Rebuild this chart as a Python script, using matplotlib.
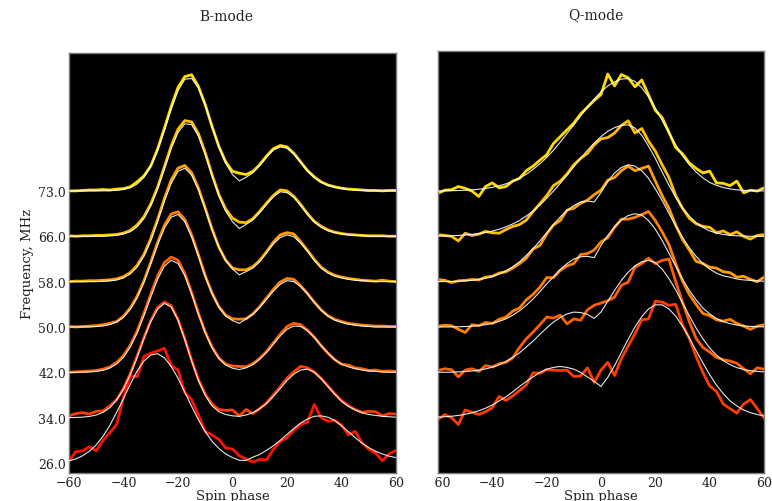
import numpy as np
import matplotlib
matplotlib.use("Agg")
import matplotlib.pyplot as plt
from matplotlib.transforms import Bbox, TransformedBbox

plt.rcParams['font.family'] = ['DejaVu Serif']

# ---------------- data ----------------
phase = np.arange(-60, 60.1, 2.5)          # spin phase grid (49 samples)
b_freqs = ["26.0", "34.0", "42.0", "50.0", "58.0", "66.0", "73.0"]
q_freqs = ["34.0", "42.0", "50.0", "58.0", "66.0", "73.0"]
freq_colors = {"26.0": "#ff1200", "34.0": "#ff3c00", "42.0": "#ff5f00",
               "50.0": "#ff7f00", "58.0": "#ff9f00", "66.0": "#ffbe00",
               "73.0": "#ffdc00"}

# B-mode profiles (amplitude above baseline)
b26_data = [0.05, 0.25, 0.27, 0.36, 0.27, 0.50, 0.67,
            0.85, 1.45, 1.92, 1.90, 2.35, 2.42, 2.47,
            2.53, 2.15, 2.05, 1.55, 1.40, 1.05, 0.70,
            0.62, 0.52, 0.33, 0.31, 0.16, 0.09, 0.02,
            0.08, 0.07, 0.30, 0.47, 0.56, 0.72, 0.85,
            0.90, 1.29, 1.00, 0.92, 0.94, 0.84, 0.62,
            0.70, 0.45, 0.30, 0.22, 0.05, 0.20, 0.28]
b26_model = [0.05, 0.09, 0.16, 0.26, 0.40, 0.59, 0.83,
             1.12, 1.42, 1.74, 2.03, 2.25, 2.38, 2.41,
             2.32, 2.13, 1.87, 1.56, 1.25, 0.95, 0.69,
             0.48, 0.32, 0.20, 0.12, 0.06, 0.06, 0.13,
             0.19, 0.28, 0.38, 0.50, 0.63, 0.76, 0.88,
             0.97, 1.03, 1.04, 1.01, 0.94, 0.82, 0.69,
             0.56, 0.44, 0.34, 0.26, 0.20, 0.15, 0.12]
b34_data = [0.04, 0.09, 0.11, 0.08, 0.14, 0.15, 0.26,
            0.40, 0.64, 0.97, 1.36, 1.77, 2.14, 2.43,
            2.55, 2.47, 2.17, 1.74, 1.27, 0.84, 0.52,
            0.30, 0.18, 0.16, 0.17, 0.04, 0.18, 0.09,
            0.20, 0.33, 0.50, 0.68, 0.87, 1.01, 1.13,
            1.10, 1.01, 0.87, 0.70, 0.53, 0.38, 0.27,
            0.18, 0.12, 0.14, 0.13, 0.04, 0.09, 0.08]
b34_model = [0.002, 0.005, 0.012, 0.027, 0.059, 0.118, 0.22,
             0.39, 0.63, 0.95, 1.33, 1.74, 2.12, 2.39,
             2.52, 2.44, 2.15, 1.72, 1.25, 0.82, 0.49,
             0.26, 0.13, 0.07, 0.04, 0.03, 0.06, 0.11,
             0.20, 0.31, 0.47, 0.64, 0.82, 0.96, 1.05,
             1.07, 1.00, 0.86, 0.69, 0.52, 0.36, 0.25,
             0.17, 0.11, 0.07, 0.05, 0.03, 0.02, 0.01]
b42_data = [0.00, 0.01, 0.02, 0.03, 0.04, 0.07, 0.12,
            0.22, 0.37, 0.60, 0.91, 1.30, 1.72, 2.12,
            2.42, 2.54, 2.47, 2.18, 1.76, 1.30, 0.89,
            0.56, 0.32, 0.18, 0.14, 0.13, 0.12, 0.19,
            0.31, 0.46, 0.65, 0.84, 1.01, 1.08, 1.05,
            0.93, 0.78, 0.59, 0.42, 0.28, 0.18, 0.16,
            0.10, 0.08, 0.04, 0.05, 0.02, 0.03, 0.02]
b42_model = [0.0, 0.0, 0.003, 0.008, 0.02, 0.045, 0.094,
             0.185, 0.33, 0.56, 0.87, 1.25, 1.66, 2.05,
             2.34, 2.47, 2.40, 2.13, 1.73, 1.28, 0.87,
             0.54, 0.30, 0.16, 0.09, 0.06, 0.10, 0.17,
             0.29, 0.44, 0.62, 0.80, 0.95, 1.02, 1.01,
             0.92, 0.77, 0.59, 0.43, 0.28, 0.18, 0.12,
             0.08, 0.05, 0.03, 0.02, 0.01, 0.0, 0.0]
b50_data = [0.01, 0.00, 0.01, 0.02, 0.03, 0.05, 0.08,
            0.12, 0.24, 0.42, 0.68, 1.02, 1.43, 1.86,
            2.24, 2.49, 2.54, 2.37, 2.03, 1.59, 1.13,
            0.75, 0.45, 0.26, 0.18, 0.17, 0.18, 0.29,
            0.45, 0.64, 0.83, 0.99, 1.07, 1.05, 0.91,
            0.74, 0.55, 0.38, 0.25, 0.17, 0.12, 0.08,
            0.06, 0.04, 0.03, 0.02, 0.02, 0.01, 0.01]
b50_model = [0.0, 0.0, 0.0, 0.0, 0.009, 0.022, 0.052,
             0.11, 0.21, 0.39, 0.64, 0.98, 1.39, 1.81,
             2.18, 2.42, 2.48, 2.32, 1.99, 1.56, 1.11,
             0.73, 0.43, 0.24, 0.14, 0.08, 0.18, 0.28,
             0.43, 0.61, 0.79, 0.94, 1.02, 1.00, 0.89,
             0.73, 0.54, 0.37, 0.24, 0.15, 0.10, 0.06,
             0.04, 0.02, 0.01, 0.0, 0.0, 0.0, 0.0]
b58_data = [0.00, 0.01, 0.01, 0.02, 0.02, 0.03, 0.04,
            0.06, 0.11, 0.20, 0.36, 0.60, 0.95, 1.37,
            1.83, 2.24, 2.50, 2.56, 2.40, 2.06, 1.62,
            1.16, 0.76, 0.47, 0.30, 0.26, 0.26, 0.33,
            0.47, 0.66, 0.87, 1.03, 1.08, 1.05, 0.88,
            0.69, 0.49, 0.32, 0.21, 0.14, 0.10, 0.07,
            0.05, 0.03, 0.02, 0.01, 0.03, 0.01, 0.00]
b58_model = [0.0, 0.0, 0.0, 0.0, 0.0, 0.005, 0.014,
             0.035, 0.08, 0.17, 0.32, 0.56, 0.90, 1.32,
             1.77, 2.17, 2.43, 2.50, 2.35, 2.02, 1.59,
             1.14, 0.75, 0.47, 0.28, 0.15, 0.22, 0.30,
             0.44, 0.63, 0.83, 0.97, 1.03, 0.99, 0.85,
             0.67, 0.47, 0.30, 0.19, 0.12, 0.08, 0.05,
             0.03, 0.02, 0.01, 0.0, 0.0, 0.0, 0.0]
b66_data = [0.01, 0.00, 0.01, 0.01, 0.02, 0.02, 0.03,
            0.04, 0.07, 0.13, 0.25, 0.43, 0.71, 1.08,
            1.53, 1.99, 2.36, 2.55, 2.52, 2.26, 1.84,
            1.36, 0.92, 0.60, 0.40, 0.31, 0.30, 0.39,
            0.55, 0.73, 0.90, 1.02, 1.00, 0.88, 0.70,
            0.50, 0.33, 0.22, 0.14, 0.09, 0.06, 0.04,
            0.03, 0.02, 0.01, 0.01, 0.01, 0.00, 0.00]
b66_model = [0.0, 0.0, 0.0, 0.0, 0.0, 0.0, 0.01,
             0.02, 0.05, 0.10, 0.21, 0.39, 0.67, 1.04,
             1.48, 1.93, 2.29, 2.48, 2.46, 2.21, 1.80,
             1.33, 0.89, 0.55, 0.32, 0.17, 0.26, 0.36,
             0.52, 0.70, 0.87, 0.98, 0.96, 0.86, 0.68,
             0.48, 0.31, 0.20, 0.12, 0.08, 0.05, 0.03,
             0.02, 0.01, 0.0, 0.0, 0.0, 0.0, 0.0]
b73_data = [0.00, 0.00, 0.01, 0.02, 0.02, 0.03, 0.02,
            0.04, 0.05, 0.09, 0.20, 0.33, 0.55, 0.92,
            1.38, 1.86, 2.28, 2.52, 2.56, 2.30, 1.90,
            1.42, 0.98, 0.64, 0.43, 0.39, 0.36, 0.43,
            0.58, 0.77, 0.93, 1.00, 0.97, 0.83, 0.64,
            0.45, 0.31, 0.20, 0.13, 0.09, 0.06, 0.04,
            0.03, 0.02, 0.01, 0.01, 0.00, 0.01, 0.01]
b73_model = [0.0, 0.0, 0.0, 0.0, 0.0, 0.0, 0.005,
             0.012, 0.03, 0.07, 0.15, 0.30, 0.54, 0.89,
             1.33, 1.80, 2.21, 2.46, 2.48, 2.27, 1.89,
             1.42, 0.97, 0.61, 0.36, 0.22, 0.30, 0.40,
             0.56, 0.74, 0.90, 0.97, 0.94, 0.81, 0.63,
             0.44, 0.29, 0.19, 0.12, 0.08, 0.05, 0.03,
             0.02, 0.01, 0.0, 0.0, 0.0, 0.0, 0.0]

# Q-mode profiles
q34_data = [-0.04, 0.07, 0.00, -0.15, 0.17, 0.12, 0.07,
            0.13, 0.22, 0.47, 0.38, 0.48, 0.60, 0.72,
            0.99, 0.98, 1.06, 1.05, 1.04, 1.05, 0.91,
            0.92, 1.10, 0.78, 1.05, 1.22, 0.93, 1.30,
            1.58, 1.85, 2.16, 2.18, 2.57, 2.55, 2.48,
            2.50, 2.05, 1.75, 1.35, 1.00, 0.70, 0.58,
            0.30, 0.20, 0.10, 0.30, 0.40, 0.20, 0.00]
q34_model = [0.013, 0.021, 0.032, 0.05, 0.074, 0.108, 0.153,
             0.21, 0.28, 0.37, 0.46, 0.57, 0.69, 0.80,
             0.90, 1.00, 1.07, 1.11, 1.13, 1.11, 1.07,
             1.00, 0.90, 0.80, 0.69, 0.89, 1.15, 1.44,
             1.73, 2.00, 2.23, 2.40, 2.49, 2.49, 2.40,
             2.24, 2.02, 1.76, 1.48, 1.21, 0.95, 0.72,
             0.53, 0.37, 0.26, 0.17, 0.11, 0.07, 0.04]
q42_data = [0.04, 0.08, 0.06, -0.10, 0.05, 0.08, 0.02,
            0.15, 0.12, 0.19, 0.22, 0.32, 0.55, 0.74,
            0.89, 1.05, 1.22, 1.20, 1.26, 1.07, 1.18,
            1.15, 1.38, 1.48, 1.53, 1.58, 1.66, 1.92,
            1.99, 2.32, 2.40, 2.52, 2.40, 2.47, 2.50,
            2.00, 1.55, 1.12, 0.75, 0.55, 0.45, 0.33,
            0.28, 0.25, 0.20, 0.08, -0.03, 0.10, 0.07]
q42_model = [0.002, 0.003, 0.006, 0.011, 0.018, 0.03, 0.049,
             0.076, 0.115, 0.168, 0.24, 0.33, 0.43, 0.56,
             0.69, 0.84, 0.98, 1.11, 1.21, 1.29, 1.33,
             1.32, 1.28, 1.19, 1.33, 1.57, 1.81, 2.03,
             2.21, 2.35, 2.44, 2.47, 2.42, 2.28, 2.07,
             1.82, 1.53, 1.25, 0.98, 0.74, 0.54, 0.38,
             0.26, 0.17, 0.105, 0.063, 0.037, 0.021, 0.012]
q50_data = [0.02, 0.04, 0.03, -0.05, -0.12, 0.05, 0.03,
            0.10, 0.08, 0.17, 0.22, 0.35, 0.42, 0.60,
            0.72, 0.88, 1.09, 1.09, 1.25, 1.35, 1.40,
            1.60, 1.62, 1.70, 1.88, 1.97, 2.20, 2.38,
            2.38, 2.42, 2.48, 2.55, 2.35, 2.10, 1.82,
            1.40, 1.01, 0.72, 0.50, 0.30, 0.25, 0.16,
            0.13, 0.17, 0.08, 0.02, -0.05, 0.02, 0.05]
q50_model = [0.001, 0.002, 0.003, 0.006, 0.011, 0.019, 0.032,
             0.052, 0.082, 0.124, 0.18, 0.26, 0.36, 0.48,
             0.62, 0.78, 0.95, 1.11, 1.27, 1.40, 1.50,
             1.55, 1.56, 1.53, 1.80, 2.02, 2.21, 2.36,
             2.46, 2.50, 2.47, 2.35, 2.16, 1.91, 1.63,
             1.34, 1.06, 0.81, 0.60, 0.42, 0.29, 0.19,
             0.12, 0.074, 0.044, 0.025, 0.014, 0.008, 0.004]
q58_data = [0.05, 0.03, -0.02, 0.02, 0.03, 0.05, 0.04,
            0.10, 0.12, 0.19, 0.22, 0.30, 0.40, 0.52,
            0.72, 0.80, 1.05, 1.25, 1.35, 1.58, 1.62,
            1.73, 1.80, 1.92, 2.02, 2.24, 2.30, 2.45,
            2.55, 2.45, 2.50, 2.55, 2.22, 1.90, 1.62,
            1.25, 0.93, 0.70, 0.45, 0.40, 0.32, 0.30,
            0.22, 0.20, 0.10, 0.12, 0.05, 0.00, 0.10]
q58_model = [0.002, 0.004, 0.007, 0.012, 0.02, 0.032, 0.051,
             0.078, 0.117, 0.17, 0.24, 0.33, 0.44, 0.58,
             0.73, 0.90, 1.08, 1.26, 1.43, 1.57, 1.68,
             1.76, 1.78, 1.76, 1.97, 2.21, 2.40, 2.52,
             2.58, 2.55, 2.45, 2.28, 2.05, 1.79, 1.51,
             1.23, 0.98, 0.75, 0.56, 0.40, 0.28, 0.19,
             0.13, 0.10, 0.06, 0.04, 0.03, 0.02, 0.01]
q66_data = [0.04, 0.02, 0.00, -0.10, 0.07, 0.02, 0.05,
            0.11, 0.08, 0.07, 0.15, 0.22, 0.26, 0.36,
            0.55, 0.72, 0.90, 1.12, 1.22, 1.38, 1.58,
            1.72, 1.83, 2.02, 2.15, 2.18, 2.28, 2.45,
            2.55, 2.28, 2.38, 2.10, 1.88, 1.58, 1.30,
            0.90, 0.62, 0.40, 0.28, 0.22, 0.20, 0.08,
            0.12, 0.04, 0.10, 0.00, -0.06, 0.02, 0.04]
q66_model = [0.006, 0.009, 0.014, 0.02, 0.03, 0.043, 0.061,
             0.085, 0.117, 0.157, 0.21, 0.275, 0.35, 0.45,
             0.56, 0.69, 0.84, 1.00, 1.17, 1.35, 1.54,
             1.72, 1.90, 2.06, 2.20, 2.32, 2.40, 2.45,
             2.46, 2.39, 2.23, 1.99, 1.72, 1.42, 1.13,
             0.86, 0.63, 0.45, 0.30, 0.20, 0.12, 0.074,
             0.042, 0.024, 0.013, 0.007, 0.003, 0.002, 0.001]
q73_data = [-0.05, 0.02, 0.03, 0.10, 0.06, 0.00, -0.12,
            0.10, 0.18, 0.07, 0.10, 0.22, 0.28, 0.45,
            0.55, 0.68, 0.80, 1.05, 1.20, 1.35, 1.50,
            1.70, 1.85, 2.00, 2.13, 2.58, 2.32, 2.57,
            2.50, 2.30, 2.45, 2.12, 1.78, 1.62, 1.30,
            0.96, 0.82, 0.62, 0.50, 0.40, 0.44, 0.18,
            0.17, 0.12, 0.22, -0.04, 0.02, 0.00, 0.07]
q73_model = [0.003, 0.005, 0.008, 0.012, 0.018, 0.027, 0.04,
             0.058, 0.083, 0.116, 0.16, 0.215, 0.285, 0.37,
             0.48, 0.60, 0.74, 0.90, 1.08, 1.27, 1.46,
             1.66, 1.85, 2.03, 2.19, 2.32, 2.41, 2.47,
             2.48, 2.42, 2.28, 2.08, 1.83, 1.56, 1.28,
             1.02, 0.78, 0.58, 0.42, 0.29, 0.19, 0.125,
             0.078, 0.047, 0.027, 0.016, 0.008, 0.004, 0.002]

b_data = [b26_data, b34_data, b42_data, b50_data, b58_data, b66_data, b73_data]
b_model = [b26_model, b34_model, b42_model, b50_model, b58_model, b66_model, b73_model]
q_data = [q34_data, q42_data, q50_data, q58_data, q66_data, q73_data]
q_model = [q34_model, q42_model, q50_model, q58_model, q66_model, q73_model]

# ---------------- figure ----------------
W, H = 772, 502
fig = plt.figure(figsize=(W / 100, H / 100), dpi=100)
axL = fig.add_axes([69 / W, 28 / H, 327 / W, 420 / H])
axR = fig.add_axes([438 / W, 28 / H, 326 / W, 422 / H])


def draw(ax, freqs, datas, models, offset0):
    for k in range(len(freqs) - 1, -1, -1):
        base = offset0 + k
        col = freq_colors[freqs[k]]
        ax.plot(phase, base + np.asarray(datas[k]), color=col, lw=2.0,
                solid_joinstyle='round', zorder=2)
        ax.plot(phase, base + np.asarray(models[k]), color='white', lw=0.8,
                alpha=0.9, zorder=3)


draw(axL, b_freqs, b_data, b_model, 0)
draw(axR, q_freqs, q_data, q_model, 1)

for ax in (axL, axR):
    ax.set_facecolor('black')
    ax.set_xlim(-60, 60)
    ax.set_xticks([-60, -40, -20, 0, 20, 40, 60])
    ax.tick_params(axis='both', direction='in', color='black',
                   labelsize=9, labelcolor='#222222', pad=2)
    for sp in ax.spines.values():
        sp.set_color('#7a7a7a')
        sp.set_linewidth(1.0)
    ax.set_xlabel('Spin phase', fontsize=9.5, labelpad=0, color='#222222')

axL.set_ylim(-0.22, 9.04)
axR.set_ylim(-0.22, 9.09)
axL.set_yticks(range(len(b_freqs)))
axL.set_yticklabels(b_freqs)
axL.set_ylabel('Frequency, MHz', fontsize=9.5, labelpad=3, color='#222222')
axR.set_yticks([])

# right panel's first tick label is partly hidden behind the panel gap
clip = TransformedBbox(Bbox([[434 / W, 0], [1, 1]]), fig.transFigure)
for t in axR.get_xticklabels():
    t.set_clip_box(clip)
    t.set_clip_on(True)

fig.text(226 / W, 1 - 17.3 / H, 'B-mode', ha='center', va='center',
         fontsize=10, color='#222222')
fig.text(595.5 / W, 1 - 15 / H, 'Q-mode', ha='center', va='center',
         fontsize=10, color='#222222')

fig.savefig('out.png', dpi=100, facecolor='white')
